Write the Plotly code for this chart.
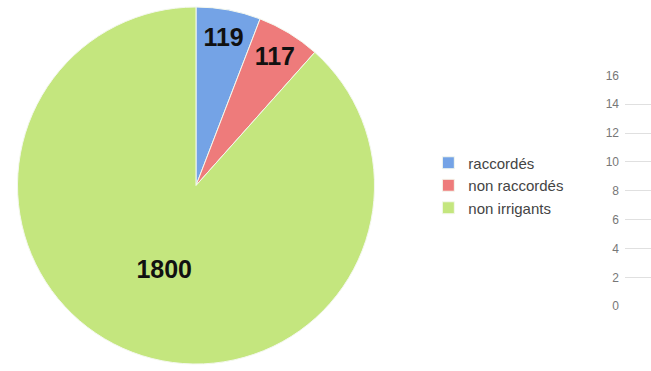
import plotly.graph_objects as go

labels = ["raccordés", "non raccordés", "non irrigants"]
values = [119, 117, 1800]
colors = ["#74a3e6", "#ee7b7b", "#c4e67e"]

axis_ticks = [0, 2, 4, 6, 8, 10, 12, 14, 16]

fig = go.Figure()
fig.add_trace(go.Pie(
    labels=labels, values=values, sort=False, direction="clockwise", rotation=0,
    marker=dict(colors=colors, line=dict(color="#f4f8ee", width=1)),
    textinfo="value", textposition="inside", insidetextorientation="horizontal",
    textfont=dict(family="Liberation Sans", size=25, color="#111111", weight="bold"),
    domain=dict(x=[10/651, 382/651], y=[0, 1]),
    hoverinfo="label+value",
))
# invisible scatter to hold the right axis
fig.add_trace(go.Scatter(x=[0], y=[0], mode="markers", marker=dict(opacity=0), showlegend=False, hoverinfo="skip"))

fig.update_layout(
    width=651, height=371, margin=dict(l=0, r=0, t=0, b=0),
    paper_bgcolor="white", plot_bgcolor="white",
    showlegend=True,
    legend=dict(x=0.658, y=0.50, xanchor="left", yanchor="middle",
                font=dict(family="Liberation Sans", size=15, color="#444444"),
                itemwidth=30, tracegroupgap=0),
    xaxis=dict(domain=[625/651, 1], range=[0, 1], visible=False),
    yaxis=dict(domain=[(371-311)/371, (371-71)/371], range=[0, 16], tickvals=axis_ticks,
               showgrid=True, gridcolor="#e0e0e0", gridwidth=1, zeroline=False, showline=False,
               tickfont=dict(family="Liberation Sans", size=12, color="#777777"),
               ticks="", ticklen=0, ticklabelstandoff=5),
)
fig.write_html("out.html")
